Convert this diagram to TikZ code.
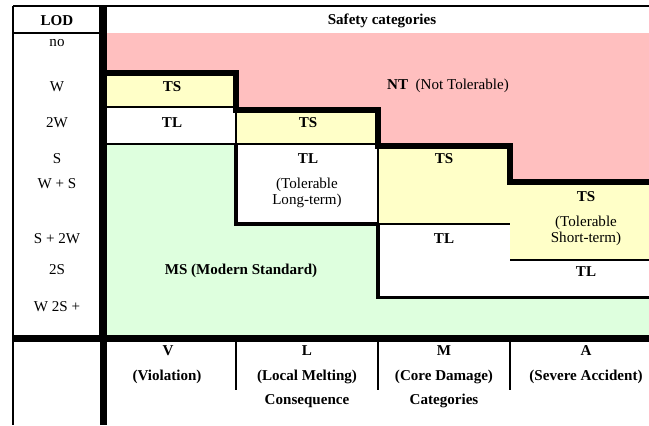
\documentclass[tikz,border=0pt]{standalone}
\usepackage{fontspec}
\setmainfont{Liberation Serif}
\definecolor{ntpink}{RGB}{255,191,191}
\definecolor{tsyellow}{RGB}{255,255,200}
\definecolor{msgreen}{RGB}{222,255,222}

\begin{document}
\begin{tikzpicture}[x=0.75pt, y=-0.75pt,
  every node/.style={font=\fontsize{11.3}{12}\selectfont, align=center, inner sep=0pt},
  hairline/.style={line width=0.9pt},
  midline/.style={line width=1.5pt},
  boxline/.style={line width=2.6pt},
  stairline/.style={line width=4.5pt}]
\useasboundingbox (0,0) rectangle (649,425);

% coloured areas
\fill[ntpink] (107,33) rectangle (649,144);
\fill[msgreen] (107,144) rectangle (649,336);
\fill[ntpink] (510,143) rectangle (649,185);
\fill[tsyellow] (107,72) rectangle (236,107);
\fill[tsyellow] (236,109) rectangle (378,144);
\fill[tsyellow] (378,145) rectangle (510,224);
\fill[tsyellow] (510,182) rectangle (649,260);
\fill[white] (107,107) rectangle (236,144);
\fill[white] (236,144) rectangle (378,224);
\fill[white] (378,224) rectangle (510,297);
\fill[white] (510,260) rectangle (649,297);

% frame
\draw[hairline] (13,6) -- (649,6);
\draw[hairline] (13,6) -- (13,425);
\draw[hairline] (13,33) -- (100,33);
\draw[hairline] (100,6) -- (100,336);
\draw[line width=4.8pt] (103.5,6) -- (103.5,425);
\draw[line width=5.2pt] (13,338.5) -- (649,338.5);

% cells
\draw[hairline] (107,107) -- (236,107);
\draw[midline] (107,144) -- (378,144);
\draw[midline] (236,109.5) -- (236,144);
\draw[boxline] (236,144) -- (236,224) -- (378,224);
\draw[hairline] (378,145.5) -- (378,224);
\draw[midline] (378,224) -- (510,224);
\draw[boxline] (378,224) -- (378,297.5) -- (649,297.5);
\draw[midline] (510,260) -- (649,260);
\draw[stairline] (103.5,72.5) -| (236,109.5) -| (378,145.5) -| (510,182) -- (649,182);

% bottom columns
\draw[midline] (236,341) -- (236,390);
\draw[midline] (378,341) -- (378,390);
\draw[midline] (510,341) -- (510,390);

% header
\node (lod) at (57,21) {\textbf{LOD}};
\node (safety) at (382,21) {\textbf{Safety categories}};

% LOD rows
\node (no) at (57,43) {no};
\node (w) at (57,87) {W};
\node (ww) at (57,123) {2W};
\node (s) at (57,159) {S};
\node (ws) at (57,184) {W + S};
\node (sww) at (57,239) {S + 2W};
\node (ss) at (57,270) {2S};
\node (wss) at (57,307) {W 2S +};

% regions
\node (nt) at (448,86) {\textbf{NT}\enspace(Not Tolerable)};
\node (ms) at (241,271) {\textbf{MS (Modern Standard)}};
\node (tsv) at (172,87) {\textbf{TS}};
\node (tlv) at (172,123) {\textbf{TL}};
\node (tsl) at (308,123) {\textbf{TS}};
\node (tll) at (308,159) {\textbf{TL}};
\node (tlltext) at (307,193) {(Tolerable\\Long-term)};
\node (tsm) at (444,159) {\textbf{TS}};
\node (tlm) at (444,239) {\textbf{TL}};
\node (tsa) at (586,197) {\textbf{TS}};
\node (tsatext) at (586,231) {(Tolerable\\Short-term)};
\node (tla) at (586,272) {\textbf{TL}};

% consequence categories
\node (v) at (168,351) {\textbf{V}};
\node (vtext) at (167,377) {\textbf{(Violation)}};
\node (l) at (307,351) {\textbf{L}};
\node (ltext) at (307,377) {\textbf{(Local Melting)}};
\node (m) at (444,351) {\textbf{M}};
\node (mtext) at (444,377) {\textbf{(Core Damage)}};
\node (a) at (586,351) {\textbf{A}};
\node (atext) at (586,377) {\textbf{(Severe Accident)}};
\node (cons) at (307,401) {\textbf{Consequence}};
\node (cats) at (444,401) {\textbf{Categories}};
\end{tikzpicture}
\end{document}
